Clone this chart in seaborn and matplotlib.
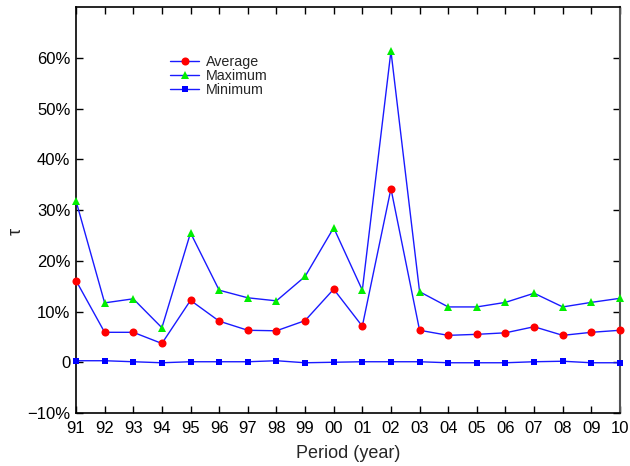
import numpy as np
import pandas as pd
import matplotlib
matplotlib.use("Agg")
import matplotlib.pyplot as plt
import seaborn as sns

periods = ["91", "92", "93", "94", "95", "96", "97", "98", "99", "00",
           "01", "02", "03", "04", "05", "06", "07", "08", "09", "10"]
average = [16.1, 5.9, 5.9, 3.7, 12.2, 8.1, 6.3, 6.2, 8.2, 14.4,
           7.1, 34.2, 6.3, 5.3, 5.5, 5.8, 7.0, 5.3, 5.9, 6.3]
maximum = [31.8, 11.7, 12.5, 6.8, 25.5, 14.2, 12.7, 12.1, 16.9, 26.5,
           14.2, 61.3, 13.9, 10.9, 10.9, 11.8, 13.6, 10.9, 11.8, 12.6]
minimum = [0.3, 0.3, 0.1, -0.1, 0.1, 0.1, 0.1, 0.3, -0.1, 0.0,
           0.1, 0.1, 0.1, -0.1, -0.1, -0.1, 0.1, 0.2, -0.1, -0.1]
ytick_vals = [-10, 0, 10, 20, 30, 40, 50, 60]
ytick_labels = ["\u221210%", "0", "10%", "20%", "30%", "40%", "50%", "60%"]

sns.set_theme(style="ticks")
plt.rcParams['font.family'] = ['Liberation Sans', 'DejaVu Sans']

df = pd.DataFrame({"pos": np.arange(len(periods)), "period": periods,
                   "Average": average, "Maximum": maximum, "Minimum": minimum})

fig = plt.figure(figsize=(6.3, 4.66), dpi=100)
ax = fig.add_axes([76/630, 1 - 413/466, 544/630, 406/466])

styles = [("Average", "o", "#ff0000", 5.8),
          ("Maximum", "^", "#00ee00", 6.2),
          ("Minimum", "s", "#0000ff", 4.8)]
for name, mk, fc, ms in styles:
    sns.lineplot(data=df, x="pos", y=name, ax=ax, color="#1a1aff", lw=1.0,
                 marker=mk, markersize=ms, markerfacecolor=fc,
                 markeredgecolor=fc, markeredgewidth=0, label=name,
                 sort=False, clip_on=False, zorder=3)

ax.set_xlim(0, len(periods) - 1)
ax.set_ylim(-10, 70)
ax.set_xticks(df["pos"])
ax.set_xticklabels(periods)
ax.set_yticks(ytick_vals)
ax.set_yticklabels(ytick_labels)
ax.tick_params(direction="in", length=5, width=1, top=True, right=True,
               labelsize=12, colors="black", pad=6)
ax.tick_params(axis="y", pad=4)
for s in ["left", "bottom", "top"]:
    ax.spines[s].set_color("black")
    ax.spines[s].set_linewidth(1.2)
ax.spines["right"].set_color("#555555")
ax.spines["right"].set_linewidth(1.5)

ax.set_xlabel("Period (year)", fontsize=13, labelpad=6)
ax.set_ylabel("\u03c4", fontsize=13)
ax.yaxis.set_label_coords(-0.094, 0.448)

leg = ax.legend(loc="upper left", bbox_to_anchor=(0.162, 0.897), frameon=False,
                fontsize=10.3, handlelength=2.05, handletextpad=0.5,
                labelspacing=0.02, borderaxespad=0)

fig.savefig("out.png", dpi=100)
